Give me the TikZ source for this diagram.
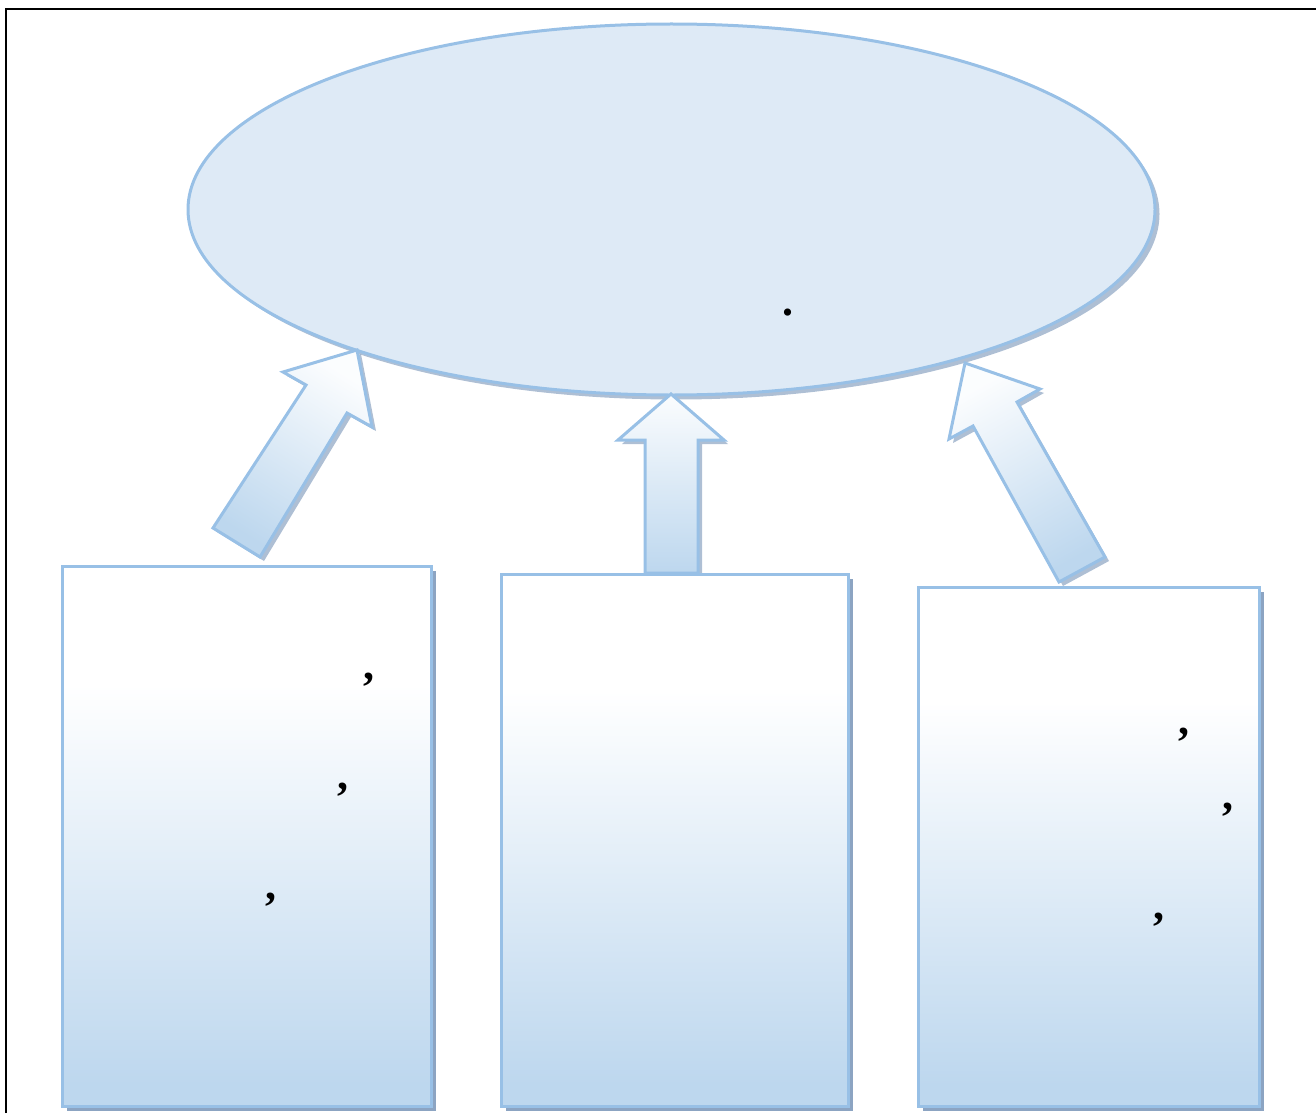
\documentclass[tikz,border=0pt]{standalone}
\usepackage{fontspec}
\setmainfont{Liberation Serif}
\definecolor{edge}{RGB}{152,192,230}
\definecolor{fillE}{RGB}{222,234,246}
\definecolor{boxbot}{RGB}{189,215,238}
\definecolor{shad}{RGB}{140,164,194}
\pgfdeclareverticalshading{boxshade}{100bp}{color(0bp)=(boxbot); color(27bp)=(boxbot); color(64bp)=(white); color(100bp)=(white)}
\pgfdeclareverticalshading{arrowshade}{100bp}{color(0bp)=(boxbot); color(25bp)=(boxbot); color(75bp)=(white!94!boxbot); color(100bp)=(white!94!boxbot)}
\tikzset{
  frameline/.style={black, line width=1.6pt},
  shadowfill/.style={fill=shad, draw=none},
  boxstyle/.style={draw=edge, line width=3pt, shading=boxshade},
  arrowbody/.style={draw=edge, line width=3pt, line join=miter, shading=arrowshade},
  ellstyle/.style={draw=edge, line width=3pt, fill=fillE},
  punct/.style={inner sep=0pt, font=\fontsize{44}{50}\selectfont\bfseries}
}
\begin{document}
\begin{tikzpicture}[x=1pt,y=-1pt]
\useasboundingbox (0,0) rectangle (1316,1113);
\draw[frameline] (6,1113) -- (6,9) -- (1316,9);

% ellipse
\fill[shad, opacity=0.7] (676,214) ellipse [x radius=483.5, y radius=185.5];
\draw[ellstyle] (671.5,209.5) ellipse [x radius=483.5, y radius=185.5];
\node[punct] (p0) at (788,313) {.};

% arrows (shadows first)
\fill[shad, opacity=0.7, shift={(4,4)}] (357,350) -- (283,372) -- (306,385) -- (213,528) -- (260,557) -- (347,413) -- (372,427) -- cycle;
\path[arrowbody, shading angle=-32] (357,350) -- (283,372) -- (306,385) -- (213,528) -- (260,557) -- (347,413) -- (372,427) -- cycle;

\fill[shad, opacity=0.7, shift={(4,4)}] (671,394) -- (618,440) -- (645,440) -- (645,573) -- (698,573) -- (698,440) -- (724,440) -- cycle;
\path[arrowbody] (671,394) -- (618,440) -- (645,440) -- (645,573) -- (698,573) -- (698,440) -- (724,440) -- cycle;

\fill[shad, opacity=0.7, shift={(4,4)}] (965,363) -- (949,439) -- (973,426) -- (1059,582) -- (1105,557) -- (1017,402) -- (1040,389) -- cycle;
\path[arrowbody, shading angle=29] (965,363) -- (949,439) -- (973,426) -- (1059,582) -- (1105,557) -- (1017,402) -- (1040,389) -- cycle;

% boxes
\fill[shadowfill] (67,571) rectangle (436,1111);
\path[boxstyle] (62,566) rectangle (431,1106);
\fill[shadowfill] (506,579) rectangle (853,1111);
\path[boxstyle] (501,574) rectangle (848,1106);
\fill[shadowfill] (923,592) rectangle (1264,1111);
\path[boxstyle] (918,587) rectangle (1259,1106);

% punctuation
\node[punct] (l1) at (369,680) {,};
\node[punct] (l2) at (343,790) {,};
\node[punct] (l3) at (271,900) {,};
\node[punct] (r1) at (1184,735) {,};
\node[punct] (r2) at (1228,810) {,};
\node[punct] (r3) at (1159,920) {,};
\end{tikzpicture}
\end{document}
